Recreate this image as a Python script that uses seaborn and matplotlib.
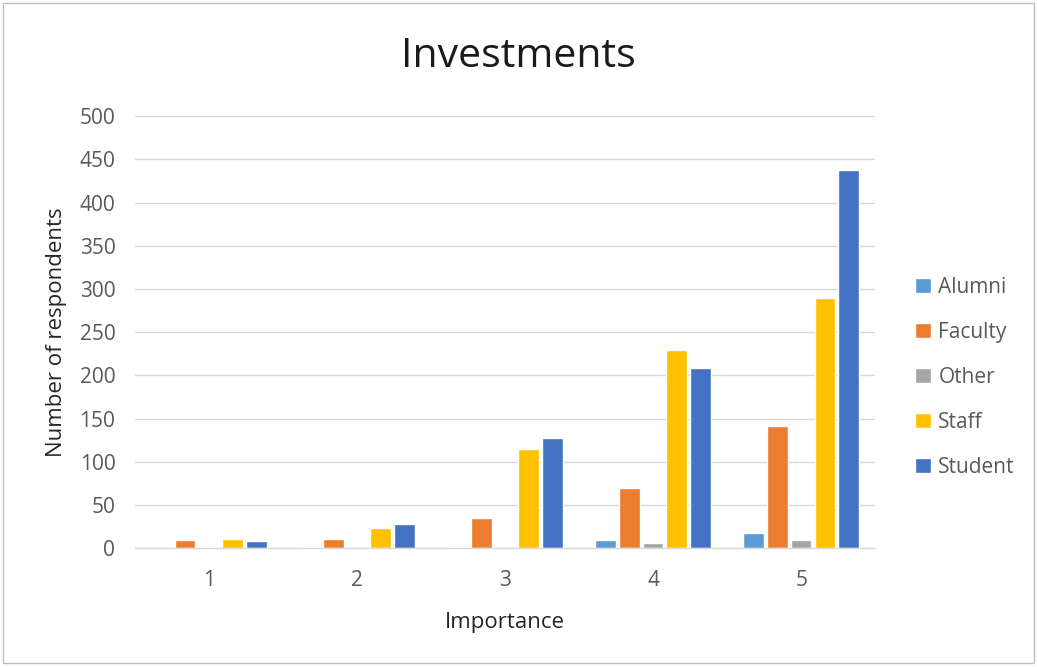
import matplotlib
matplotlib.use("Agg")
import matplotlib.pyplot as plt
import seaborn as sns
import pandas as pd
from matplotlib.patches import Rectangle

importance = ["1", "2", "3", "4", "5"]
groups = ["Alumni", "Faculty", "Other", "Staff", "Student"]
alumni = [0, 1, 2, 9, 18]
faculty = [10, 11, 35, 70, 142]
other = [1, 0, 0, 6, 10]
staff = [11, 24, 115, 229, 290]
student = [8, 28, 127, 209, 438]
y_ticks = [0, 50, 100, 150, 200, 250, 300, 350, 400, 450, 500]

colors = ["#5B9BD5", "#ED7D31", "#A5A5A5", "#FFC000", "#4472C4"]

rows = []
for g, vals in zip(groups, [alumni, faculty, other, staff, student]):
    for imp, v in zip(importance, vals):
        rows.append({"Importance": imp, "Group": g, "Count": v})
df = pd.DataFrame(rows)

sns.set_theme(style="white")
plt.rcParams["font.family"] = ["Open Sans", "DejaVu Sans"]

fig = plt.figure(figsize=(10.37, 6.67), dpi=100)
ax = fig.add_axes([0.130, 0.178, 0.714, 0.648])

sns.barplot(data=df, x="Importance", y="Count", hue="Group", order=importance,
            hue_order=groups, palette=colors, width=0.8, gap=0.13,
            saturation=1, ax=ax, legend=True)

ax.set_ylim(0, 500)
ax.set_yticks(y_ticks)
ax.yaxis.grid(True, color="#D9D9D9", linewidth=1)
ax.set_axisbelow(True)
for s in ["top", "right", "left"]:
    ax.spines[s].set_visible(False)
ax.spines["bottom"].set_color("#D9D9D9")
ax.spines["bottom"].set_linewidth(1)
ax.tick_params(axis="both", length=0, labelsize=15, labelcolor="#595959")
ax.tick_params(axis="x", pad=16)
ax.tick_params(axis="y", pad=14)
ax.set_xlabel("Importance", fontsize=16, color="#262626", labelpad=15)
ax.set_ylabel("Number of respondents", fontsize=16, color="#262626", labelpad=9)

fig.text(0.50, 0.915, "Investments", ha="center", va="center", fontsize=29.5, color="#1a1a1a")

handles, labels = ax.get_legend_handles_labels()
ax.legend(handles, labels, loc="center left", bbox_to_anchor=(1.029, 0.395),
          frameon=False, fontsize=15, labelcolor="#595959",
          handlelength=0.75, handleheight=0.75, handletextpad=0.35, labelspacing=1.15)

fig.patches.append(Rectangle((0.003, 0.006), 0.994, 0.99, transform=fig.transFigure,
                             fill=False, edgecolor="#BFBFBF", linewidth=1))

fig.savefig("out.png", dpi=100)
